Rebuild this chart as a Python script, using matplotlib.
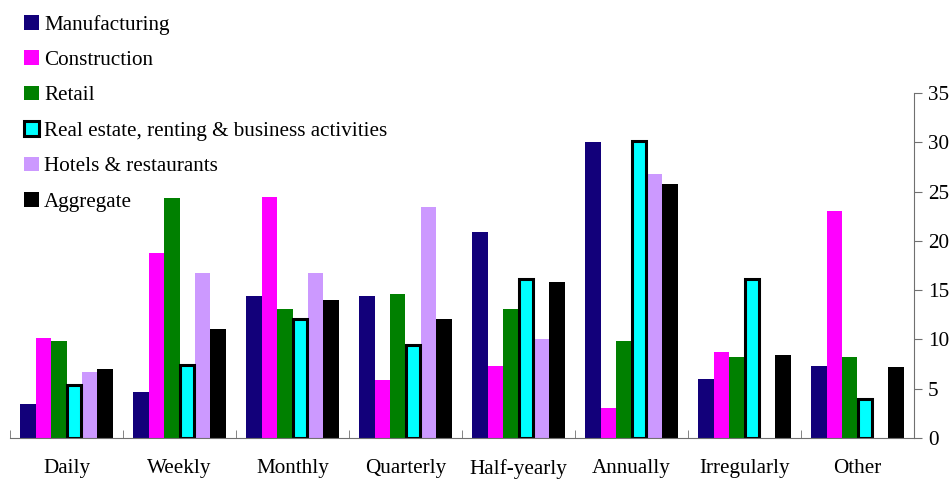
import numpy as np
import matplotlib.pyplot as plt
from matplotlib.patches import Patch

plt.rcParams['font.family'] = ['Liberation Serif', 'DejaVu Serif']

categories = ["Daily", "Weekly", "Monthly", "Quarterly", "Half-yearly",
              "Annually", "Irregularly", "Other"]
series_names = ["Manufacturing", "Construction", "Retail",
                "Real estate, renting & business activities",
                "Hotels & restaurants", "Aggregate"]

manufacturing = [3.4, 4.7, 14.4, 14.4, 20.9, 30.0, 6.0, 7.3]
construction = [10.1, 18.8, 24.4, 5.9, 7.3, 3.0, 8.7, 23.0]
retail = [9.8, 24.3, 13.1, 14.6, 13.1, 9.8, 8.2, 8.2]
real_estate = [5.4, 7.4, 12.1, 9.4, 16.1, 30.1, 16.1, 4.0]
hotels = [6.7, 16.7, 16.7, 23.4, 10.0, 26.8, 0, 0]
aggregate = [7.0, 11.1, 14.0, 12.1, 15.8, 25.8, 8.4, 7.2]

series = [manufacturing, construction, retail, real_estate, hotels, aggregate]
colors = ["#12007a", "#ff00ff", "#008000", "#00ffff", "#cc99ff", "#000000"]
edges = [None, None, None, "black", None, None]

fs = 15.2

fig = plt.figure(figsize=(9.52, 4.79), dpi=100)
ax = fig.add_axes([10 / 952, 41 / 479, 904 / 952, 345 / 479])

x = np.arange(len(categories))
w = 0.137
for i, vals in enumerate(series):
    off = (i - 2.5) * w
    if edges[i]:
        ax.bar(x + off, vals, w * 0.92, color=colors[i], edgecolor="black",
               linewidth=2.2, zorder=3)
    else:
        ax.bar(x + off, vals, w, color=colors[i], linewidth=0, zorder=2)

ax.set_xlim(-0.5, len(categories) - 0.5)
ax.set_ylim(0, 35)

grey = "#707070"
ax.spines['left'].set_visible(False)
ax.spines['top'].set_visible(False)
ax.spines['right'].set_color(grey)
ax.spines['bottom'].set_color(grey)
ax.spines['bottom'].set_zorder(4)

ax.yaxis.tick_right()
ax.set_yticks(range(0, 36, 5))
ax.tick_params(axis='y', direction='out', length=6, color=grey, labelsize=fs,
               pad=4)

ax.set_xticks(x)
ax.set_xticklabels(categories)
ax.set_xticks(np.arange(-0.5, len(categories), 1.0), minor=True)
ax.tick_params(axis='x', which='major', length=0, labelsize=fs, pad=15)
ax.tick_params(axis='x', which='minor', direction='in', length=6, color=grey)

handles = []
for name, c, e in zip(series_names, colors, edges):
    if e:
        handles.append(Patch(facecolor=c, edgecolor="black", linewidth=2.2, label=name))
    else:
        handles.append(Patch(facecolor=c, edgecolor="none", label=name))
fig.legend(handles=handles, loc="upper left", bbox_to_anchor=(0.0098, 1.0),
           frameon=False, fontsize=fs, handlelength=0.7, handleheight=0.7,
           handletextpad=0.25, labelspacing=0.74, borderaxespad=0.3)

fig.savefig("out.png", dpi=100)
